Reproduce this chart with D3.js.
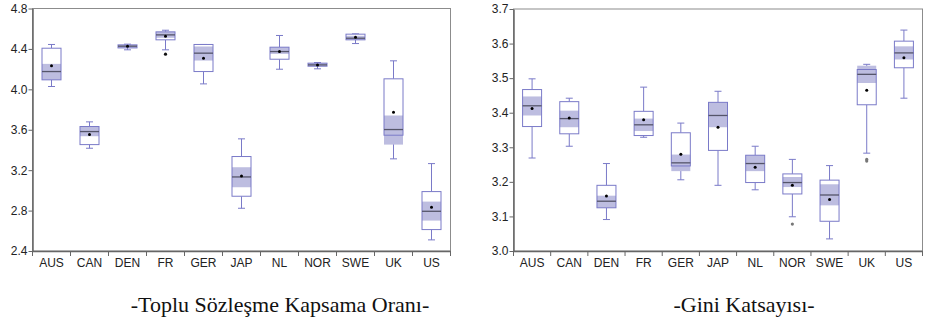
<!DOCTYPE html>
<html>
<head>
<meta charset="utf-8">
<script src="https://cdn.jsdelivr.net/npm/d3@7"></script>
<style>
  body { margin: 0; background: #fff; }
  svg { display: block; }
  .tick text { font-family: "Liberation Sans", Arial, sans-serif; font-size: 12px; fill: #222; }
  .caption { font-family: "Liberation Serif", "Times New Roman", serif; font-size: 22px; fill: #111; }
</style>
</head>
<body>
<script>
const countries = ["AUS", "CAN", "DEN", "FR", "GER", "JAP", "NL", "NOR", "SWE", "UK", "US"];

// -Toplu Sözleşme Kapsama Oranı-
const tskTicks = [2.4, 2.8, 3.2, 3.6, 4.0, 4.4, 4.8];
const tskWhiskerLo = [4.028, 3.417, 4.391, 4.391, 4.054, 2.823, 4.199, 4.203, 4.453, 3.312, 2.510];
const tskQ1        = [4.094, 3.453, 4.410, 4.490, 4.176, 2.942, 4.298, 4.229, 4.490, 3.546, 2.612];
const tskMedian    = [4.176, 3.582, 4.427, 4.539, 4.358, 3.133, 4.374, 4.242, 4.506, 3.602, 2.793];
const tskQ3        = [4.407, 3.632, 4.440, 4.569, 4.444, 3.335, 4.417, 4.259, 4.546, 4.104, 2.988];
const tskWhiskerHi = [4.444, 3.678, 4.447, 4.585, 4.444, 3.510, 4.533, 4.265, 4.549, 4.282, 3.265];
const tskMean      = [4.233, 3.552, 4.427, 4.526, 4.308, 3.143, 4.374, 4.242, 4.516, 3.773, 2.833];
const tskNotchLo   = [4.094, 3.536, 4.410, 4.510, 4.285, 3.031, 4.351, 4.229, 4.490, 3.453, 2.701];
const tskNotchHi   = [4.252, 3.632, 4.440, 4.569, 4.424, 3.229, 4.417, 4.259, 4.530, 3.741, 2.889];
const tskOutliers  = [[], [], [], [4.348], [], [], [], [], [], [], []];

// -Gini Katsayısı-
const giniTicks = [3.0, 3.1, 3.2, 3.3, 3.4, 3.5, 3.6, 3.7];
const giniWhiskerLo = [3.269, 3.303, 3.091, 3.329, 3.206, 3.190, 3.177, 3.099, 3.035, 3.283, 3.442];
const giniQ1        = [3.360, 3.339, 3.125, 3.334, 3.246, 3.291, 3.198, 3.165, 3.086, 3.423, 3.530];
const giniMedian    = [3.420, 3.383, 3.144, 3.365, 3.255, 3.392, 3.253, 3.198, 3.162, 3.511, 3.573];
const giniQ3        = [3.467, 3.432, 3.190, 3.404, 3.342, 3.430, 3.277, 3.223, 3.205, 3.525, 3.607];
const giniWhiskerHi = [3.498, 3.442, 3.253, 3.474, 3.370, 3.462, 3.303, 3.265, 3.247, 3.540, 3.639];
const giniMean      = [3.412, 3.385, 3.159, 3.380, 3.280, 3.358, 3.242, 3.190, 3.149, 3.465, 3.559];
const giniNotchLo   = [3.392, 3.358, 3.125, 3.347, 3.231, 3.358, 3.231, 3.185, 3.132, 3.486, 3.554];
const giniNotchHi   = [3.447, 3.406, 3.160, 3.383, 3.279, 3.430, 3.277, 3.214, 3.193, 3.536, 3.592];
const giniOutliers  = [[], [], [], [], [], [], [], [3.078], [], [3.265, 3.260], []];

const W = 928, H = 320;
const boxStroke = "#7a7ac8";
const shade = "#bdbde0";
const frame = "#8c8c8c";

const svg = d3.select("body").append("svg").attr("width", W).attr("height", H);

function boxPlot(cfg) {
    const x = d3.scaleBand().domain(countries).range([cfg.left, cfg.right]);
    const y = d3.scaleLinear().domain(cfg.domain).range([cfg.bottom, cfg.top]);
    const rows = countries.map((c, i) => ({
        c, lo: cfg.wLo[i], q1: cfg.q1[i], med: cfg.med[i], q3: cfg.q3[i], hi: cfg.wHi[i],
        mean: cfg.mean[i], nLo: cfg.nLo[i], nHi: cfg.nHi[i], out: cfg.out[i]
    }));
    const bw = 19, cap = 7;
    const g = svg.append("g");

    // frame
    g.append("rect")
        .attr("x", cfg.left + 0.5).attr("y", cfg.top + 0.5)
        .attr("width", cfg.right - cfg.left).attr("height", cfg.bottom - cfg.top)
        .attr("fill", "none").attr("stroke", frame);

    const yAxis = g.append("g")
        .attr("transform", `translate(${cfg.left + 0.5},0.5)`)
        .call(d3.axisLeft(y).tickValues(cfg.ticks).tickFormat(d3.format(".1f")).tickSize(4).tickSizeOuter(0));
    yAxis.select(".domain").attr("stroke", "#666").attr("stroke-width", 1.5);
    yAxis.selectAll(".tick line").attr("stroke", "#666");
    yAxis.selectAll(".tick text").attr("x", -5);

    const xAxis = g.append("g")
        .attr("transform", `translate(0.5,${cfg.bottom + 0.5})`)
        .call(d3.axisBottom(x).tickSize(0).tickSizeOuter(0));
    xAxis.select(".domain").attr("stroke", "#666").attr("stroke-width", 1.5);
    xAxis.selectAll(".tick text").attr("dy", "1.05em");
    // tick marks between categories
    xAxis.selectAll(".sep")
        .data(countries.slice(1).concat(["__end"]))
        .enter().append("line")
        .attr("x1", (d, i) => x(countries[i]) + x.bandwidth())
        .attr("x2", (d, i) => x(countries[i]) + x.bandwidth())
        .attr("y1", 0).attr("y2", 5)
        .attr("stroke", "#666");
    xAxis.append("line").attr("x1", cfg.left).attr("x2", cfg.left).attr("y1", 0).attr("y2", 5).attr("stroke", "#666");

    const b = g.selectAll(".bx").data(rows).enter().append("g")
        .attr("transform", d => `translate(${x(d.c) + x.bandwidth() / 2 + 0.5},0.5)`);

    // whiskers
    b.append("line").attr("x1", 0).attr("x2", 0)
        .attr("y1", d => y(d.hi)).attr("y2", d => y(d.q3)).attr("stroke", boxStroke);
    b.append("line").attr("x1", 0).attr("x2", 0)
        .attr("y1", d => y(d.q1)).attr("y2", d => y(d.lo)).attr("stroke", boxStroke);
    b.append("line").attr("x1", -cap / 2).attr("x2", cap / 2)
        .attr("y1", d => y(d.hi)).attr("y2", d => y(d.hi)).attr("stroke", boxStroke);
    b.append("line").attr("x1", -cap / 2).attr("x2", cap / 2)
        .attr("y1", d => y(d.lo)).attr("y2", d => y(d.lo)).attr("stroke", boxStroke);

    // box
    b.append("rect").attr("x", -bw / 2).attr("width", bw)
        .attr("y", d => y(d.q3)).attr("height", d => y(d.q1) - y(d.q3))
        .attr("fill", "#fff");
    // median confidence band
    b.append("rect").attr("x", -bw / 2).attr("width", bw)
        .attr("y", d => y(d.nHi)).attr("height", d => y(d.nLo) - y(d.nHi))
        .attr("fill", shade);
    b.append("rect").attr("x", -bw / 2).attr("width", bw)
        .attr("y", d => y(d.q3)).attr("height", d => y(d.q1) - y(d.q3))
        .attr("fill", "none").attr("stroke", boxStroke);
    // median
    b.append("line").attr("x1", -bw / 2).attr("x2", bw / 2)
        .attr("y1", d => y(d.med)).attr("y2", d => y(d.med))
        .attr("stroke", "#55556a").attr("stroke-width", 1.3);
    // mean
    b.append("circle").attr("cx", 0).attr("cy", d => y(d.mean)).attr("r", 1.5).attr("fill", "#000");
    // outliers
    b.selectAll(".out").data(d => d.out).enter().append("circle")
        .attr("cx", 0).attr("cy", v => y(v)).attr("r", 1.6).attr("fill", cfg.outColor);

    svg.append("text").attr("class", "caption")
        .attr("x", cfg.captionX).attr("y", 312).attr("text-anchor", "middle")
        .text(cfg.caption);
}

boxPlot({
    left: 32, right: 450, top: 8, bottom: 250.5, domain: [2.4, 4.8], ticks: tskTicks,
    wLo: tskWhiskerLo, q1: tskQ1, med: tskMedian, q3: tskQ3, wHi: tskWhiskerHi,
    mean: tskMean, nLo: tskNotchLo, nHi: tskNotchHi, out: tskOutliers, outColor: "#111",
    caption: "-Toplu Sözleşme Kapsama Oranı-", captionX: 280
});

boxPlot({
    left: 513, right: 922, top: 8.5, bottom: 250.5, domain: [3.0, 3.7], ticks: giniTicks,
    wLo: giniWhiskerLo, q1: giniQ1, med: giniMedian, q3: giniQ3, wHi: giniWhiskerHi,
    mean: giniMean, nLo: giniNotchLo, nHi: giniNotchHi, out: giniOutliers, outColor: "#777",
    caption: "-Gini Katsayısı-", captionX: 744
});
</script>
</body>
</html>
